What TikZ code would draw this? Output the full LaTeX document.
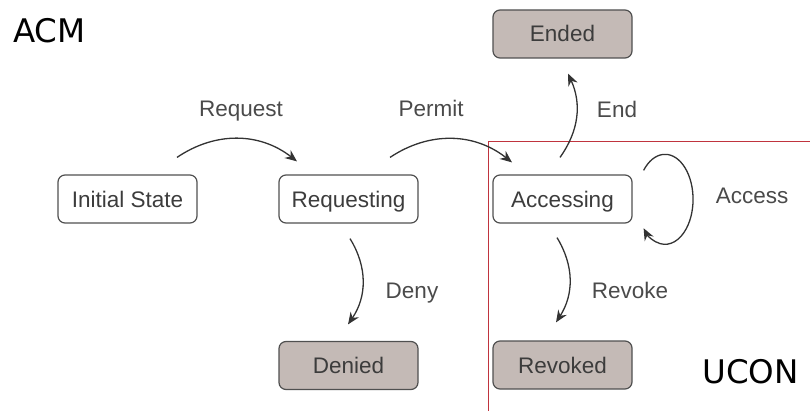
\documentclass[tikz,border=0pt]{standalone}
\usepackage{fontspec}
\setmainfont{Liberation Sans}
\newfontfamily\bigfont{DejaVu Sans}
\usetikzlibrary{arrows.meta}
\definecolor{boxfill}{HTML}{C4BAB6}
\definecolor{boxline}{HTML}{505050}
\definecolor{txt}{HTML}{3C3C3C}
\definecolor{lbl}{HTML}{4A4A4A}
\definecolor{arr}{HTML}{333333}
\definecolor{ucred}{HTML}{C0343E}
\tikzset{
  state/.style={draw=boxline, line width=1.2pt, rounded corners=7pt, minimum width=139pt, minimum height=48pt, inner sep=0pt, text=txt, font=\fontsize{22.5}{26}\selectfont, text height=16pt, text depth=0pt},
  final/.style={state, fill=boxfill},
  conn/.style={draw=arr, line width=1.3pt, -{Stealth[length=12pt,width=10pt,inset=4pt]}},
  lab/.style={text=lbl, font=\fontsize{22.5}{26}\selectfont, anchor=base, inner sep=0pt},
  big/.style={text=black, font=\bigfont\fontsize{32.5}{36}\selectfont, anchor=base west, inner sep=0pt}
}
\begin{document}
\begin{tikzpicture}[x=1pt,y=1pt]
\useasboundingbox (0,0) rectangle (810,410);
% UCON region
\draw[ucred, line width=1pt] (488,-5) -- (488,268) -- (815,268);
% states
\node[state] (init) at (127.5,211) {Initial State};
\node[state] (req) at (348.5,211) {Requesting};
\node[final] (den) at (348.5,44.5) {Denied};
\node[state] (acc) at (562.5,211) {Accessing};
\node[final] (end) at (562.5,376) {Ended};
\node[final] (rev) at (562.5,45) {Revoked};
% region labels
\node[big] (acm) at (13,367) {ACM};
\node[big] (ucon) at (702,27) {UCON};
% transitions
\draw[conn] ([xshift=49.5pt,yshift=17pt]init.north) to[bend left=36] ([xshift=-51.5pt,yshift=13pt]req.north);
\draw[conn] ([xshift=41.5pt,yshift=17pt]req.north) to[bend left=36] ([xshift=-50.5pt,yshift=12pt]acc.north);
\draw[conn] ([xshift=1.5pt,yshift=-15pt]req.south) to[bend left=33] ([xshift=-0.5pt,yshift=16.5pt]den.north);
\draw[conn] ([xshift=-2.5pt,yshift=17pt]acc.north) to[bend right=30] ([xshift=5.5pt,yshift=-15pt]end.south);
\draw[conn] ([xshift=-5.5pt,yshift=-14pt]acc.south) to[bend left=32] ([xshift=-6.5pt,yshift=18pt]rev.north);
\draw[conn] ([xshift=11pt,yshift=4pt]acc.north east) arc[start angle=140, end angle=-140, x radius=28, y radius=45];
% transition labels
\node[lab] (lreq) at (241,293) {Request};
\node[lab] (lper) at (431,293) {Permit};
\node[lab] (lend) at (617,292) {End};
\node[lab] (lacc) at (752,207) {Access};
\node[lab] (lden) at (412,112) {Deny};
\node[lab] (lrev) at (630,112) {Revoke};
\end{tikzpicture}
\end{document}
